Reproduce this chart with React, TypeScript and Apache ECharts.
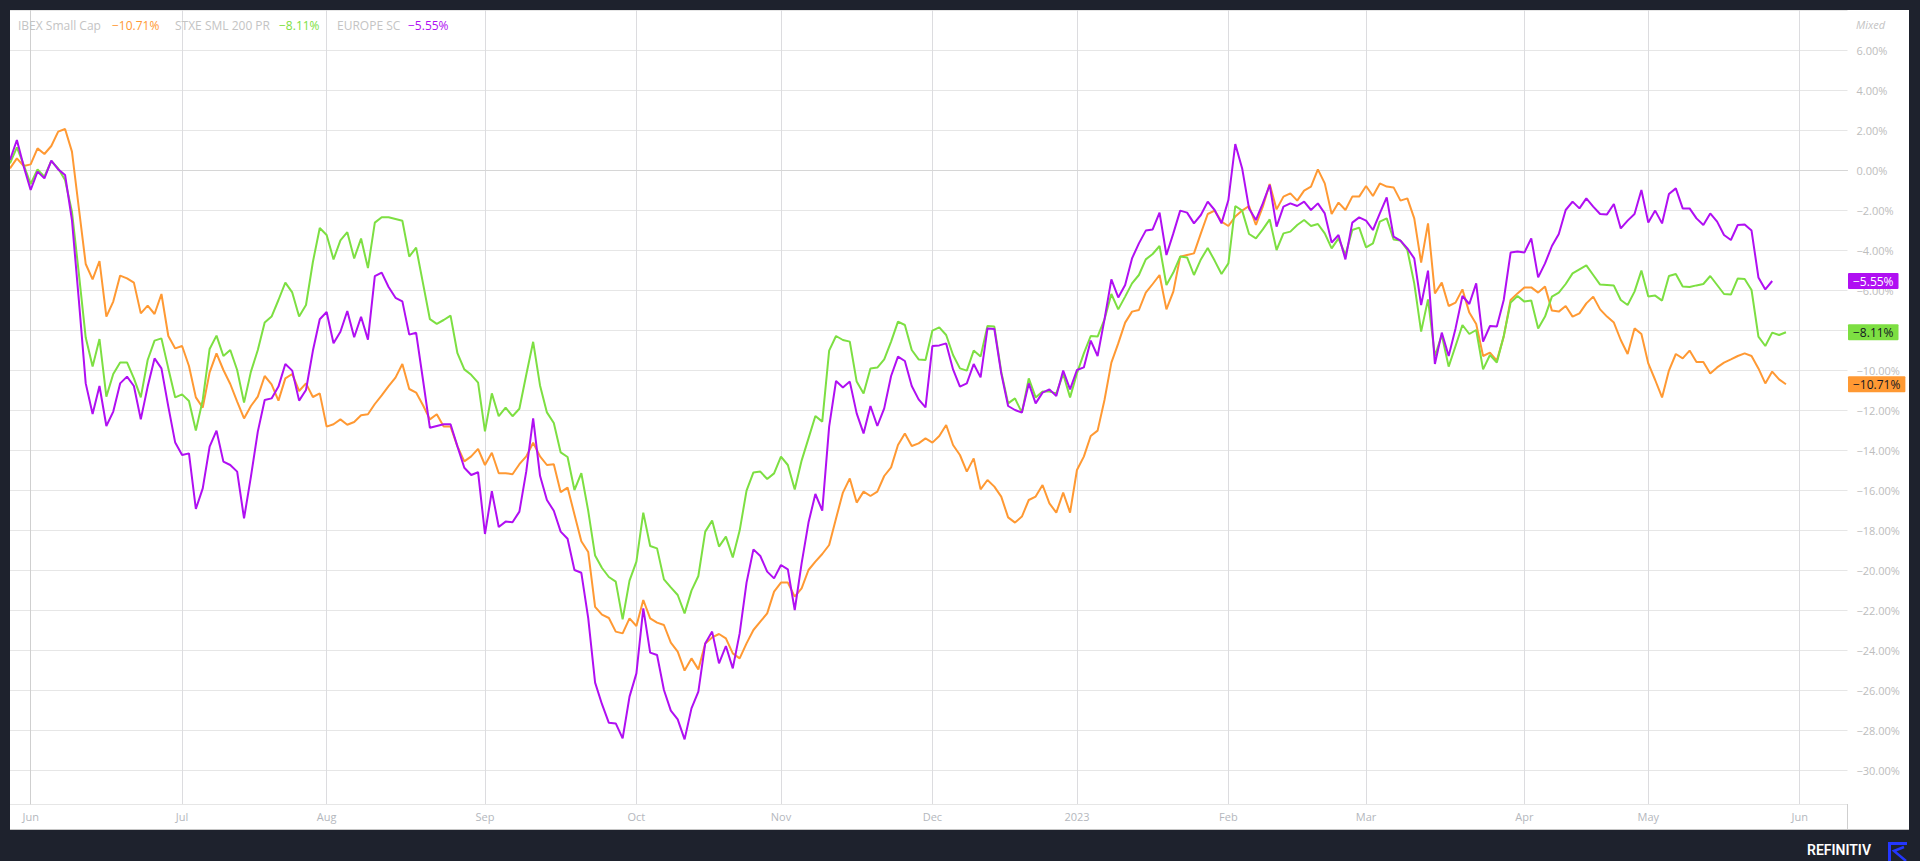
import React, { useEffect, useRef } from 'react';
import * as echarts from 'echarts';

// Trading-day index of the first point (Jun 1 2022 = 0)
const START_DAY = -3;

// X-axis month ticks (trading-day index) and their labels
const monthTickDays = [0, 22, 43, 66, 88, 109, 131, 152, 174, 194, 217, 235, 257];
const monthTickLabels = ['Jun', 'Jul', 'Aug', 'Sep', 'Oct', 'Nov', 'Dec', '2023', 'Feb', 'Mar', 'Apr', 'May', 'Jun'];

const seriesNames = ['IBEX Small Cap', 'STXE SML 200 PR', 'EUROPE SC'];
const seriesColors = ['#ff9933', '#7ddf42', '#b00ff2'];
const tagTextColors = ['#131722', '#131722', '#ffffff'];

// % change, one value per trading day
const ibexSmallCap = [
  0.08, 0.58, 0.2, 0.28, 1.08, 0.8, 1.2, 1.92, 2.05, 0.92,
  -1.9, -4.7, -5.47, -4.55, -7.33, -6.58, -5.28, -5.42, -5.63, -7.17,
  -6.78, -7.2, -6.2, -8.3, -8.92, -8.8, -9.8, -11.37, -11.88, -10.12,
  -9.17, -10, -10.7, -11.58, -12.42, -11.8, -11.33, -10.3, -10.72, -11.53,
  -10.42, -10.2, -11.05, -10.67,
  -11.35, -11.17, -12.83, -12.71, -12.47, -12.74, -12.6, -12.26, -12.21, -11.7,
  -11.27, -10.81, -10.38, -9.7, -10.95, -11.13, -11.76, -12.47, -12.21, -12.83,
  -12.83, -13.82, -14.57, -14.32, -13.94, -14.75, -14.14, -15.16, -15.16, -15.21,
  -14.71, -14.32, -13.64, -14.32, -14.75, -14.71, -16.11, -15.88, -17.22, -18.56,
  -19.1, -21.84, -22.23, -22.4,
  -23.08, -23.17, -22.42, -22.8, -21.5, -22.42, -22.63, -22.75, -23.63, -24.08,
  -25.03, -24.42, -24.97, -23.67, -23.37, -23.2, -23.42, -24.17, -24.42, -23.67,
  -23, -22.58, -22.17, -21.08, -20.63, -20.63, -21.33, -20.92, -20, -19.58,
  -19.2, -18.75, -17.42, -16.13, -15.42, -16.63, -16.08, -16.3, -16.08, -15.3,
  -14.87, -13.75, -13.17,
  -13.8, -13.67, -13.42, -13.63, -13.3, -12.75, -13.75, -14.25, -15.08, -14.42,
  -15.97, -15.5, -15.83, -16.33, -17.37, -17.63, -17.33, -16.5, -16.33, -15.75,
  -16.67, -17.13, -16.13, -17.13, -15, -14.33, -13.3, -13.03, -11.5, -9.63,
  -8.67, -7.63, -7.08, -7, -6.13, -5.7, -5.25, -6.97, -6.08, -4.33,
  -4.25, -4.17, -3.17, -2.2,
  -2.03, -2.58, -2.8, -2.33, -2.03, -1.8, -2.75, -1.83, -0.7, -1.97,
  -1.33, -1.17, -1.53, -1.03, -0.83, 0.03, -0.67, -2.2, -1.63, -2,
  -1.33, -1.33, -0.8, -1.3, -0.67, -0.83, -0.87, -1.53, -1.42, -2.42,
  -4.63, -2.67, -6.17, -5.63, -6.8, -6.63, -5.97, -7.13, -7.7, -9.3,
  -9.13, -9.53, -8.33,
  -6.5, -6.17, -5.87, -5.87, -6.13, -5.83, -7.03, -7.08, -6.8, -7.33,
  -7.17, -6.67, -6.33, -6.97, -7.33, -7.63, -8.5, -9.2, -7.92, -8.2,
  -9.67, -10.5, -11.37, -10.03, -9.2, -9.42, -9.03, -9.6, -9.6, -10.17,
  -9.87, -9.63, -9.47, -9.3, -9.17, -9.3, -9.92, -10.67, -10.08, -10.47,
  -10.71,
];

const stxeSml200 = [
  0.33, 1.13, 0.25, -0.7, 0.03, -0.33, 0.45, 0.08, -0.5, -2.08,
  -5.17, -8.38, -9.83, -8.45, -11.33, -10.2, -9.62, -9.62, -10.42, -11.37,
  -9.5, -8.53, -8.42, -9.92, -11.37, -11.22, -11.55, -13.03, -11.5, -8.95,
  -8.28, -9.3, -9, -10, -11.63, -10.08, -9, -7.63, -7.33, -6.5,
  -5.63, -6.12, -7.33, -6.75,
  -4.6, -2.9, -3.25, -4.47, -3.52, -3.11, -4.42, -3.43, -4.9, -2.63,
  -2.36, -2.36, -2.45, -2.54, -4.33, -3.88, -5.67, -7.46, -7.69, -7.5,
  -7.28, -9.16, -9.97, -10.24, -10.63, -13.07, -11.17, -12.31, -11.88, -12.31,
  -11.94, -10.24, -8.59, -10.77, -12.12, -12.65, -14.12, -14.35, -16, -15.16,
  -17.04, -19.28, -19.9, -20.35,
  -20.58, -22.47, -20.53, -19.58, -17.13, -18.8, -18.92, -20.47, -20.87, -21.25,
  -22.17, -21.03, -20.3, -18.08, -17.53, -18.83, -18.33, -19.37, -18.03, -16.03,
  -15.12, -15.08, -15.45, -15.17, -14.33, -14.75, -15.97, -14.53, -13.42, -12.3,
  -12.58, -9.03, -8.3, -8.5, -8.58, -10.58, -11.17, -9.92, -9.88, -9.47,
  -8.58, -7.58, -7.75,
  -9, -9.47, -9.5, -8.03, -7.87, -8.25, -9.25, -9.92, -10.03, -9.03,
  -9.33, -7.8, -7.83, -10.08, -11.67, -11.42, -12.13, -10.42, -11.37, -11.08,
  -11.08, -11.17, -10.2, -11.37, -10.17, -9.17, -8.3, -8.33, -7.47, -6.2,
  -6.97, -6.33, -5.67, -5.25, -4.47, -4.2, -3.8, -5.75, -5.13, -4.33,
  -4.37, -5.25, -4.47, -3.9,
  -4.53, -5.2, -4.67, -1.8, -2.03, -3.2, -3.42, -2.97, -2.47, -4,
  -3.17, -3.08, -2.75, -2.5, -2.8, -2.7, -3.17, -3.92, -3.42, -4.25,
  -3, -2.88, -3.87, -3.67, -2.58, -2.42, -3.47, -3.53, -4, -5.67,
  -8.08, -6.47, -9.3, -8.25, -9.83, -8.8, -7.75, -8.2, -8, -9.97,
  -9.25, -9.63, -8.3,
  -6.63, -6.3, -6.58, -6.53, -7.92, -7.33, -6.33, -6.13, -5.7, -5.17,
  -4.97, -4.77, -5.25, -5.73, -5.75, -5.78, -6.5, -6.75, -6.08, -5.03,
  -6.33, -6.28, -6.53, -5.3, -5.2, -5.83, -5.85, -5.77, -5.7, -5.3,
  -5.75, -6.2, -6.23, -5.42, -5.45, -6, -8.33, -8.8, -8.13, -8.25,
  -8.11,
];

const europeSc = [
  0.5, 1.5, 0.17, -1, -0.08, -0.42, 0.47, 0.03, -0.25, -2.5,
  -6.5, -10.67, -12.2, -10.8, -12.8, -12.08, -10.67, -10.33, -10.8, -12.47,
  -10.83, -9.42, -9.92, -11.83, -13.63, -14.25, -14.17, -16.95, -15.92, -13.83,
  -13.03, -14.58, -14.75, -15.08, -17.42, -15.33, -13.08, -11.5, -11.42, -10.83,
  -9.7, -10.03, -11.53, -11,
  -9.04, -7.46, -7.1, -8.66, -8.09, -7.05, -8.36, -7.34, -8.48, -5.31,
  -5.13, -5.85, -6.39, -6.57, -8.23, -8.14, -10.5, -12.89, -12.8, -12.71,
  -12.71, -13.82, -14.89, -15.25, -15.11, -18.2, -16.06, -17.85, -17.58, -17.61,
  -17.08, -15.07, -12.42, -15.29, -16.5, -17.04, -18.08, -18.44, -20, -20.14,
  -22.41, -25.63, -26.71, -27.64,
  -27.67, -28.42, -26.33, -25.17, -21.92, -24.13, -24.25, -26, -27.03, -27.47,
  -28.47, -26.92, -26.08, -23.67, -23.08, -24.67, -23.8, -24.92, -23.17, -20.63,
  -18.97, -19.3, -20.08, -20.42, -19.75, -19.97, -22, -19.67, -17.63, -16.2,
  -17.03, -12.83, -10.55, -10.87, -10.58, -12.17, -13.17, -11.8, -12.8, -11.92,
  -10.3, -9.33, -9.55,
  -10.8, -11.47, -11.87, -8.8, -8.77, -8.67, -9.97, -10.83, -10.67, -9.7,
  -10.37, -7.92, -7.95, -10.17, -11.8, -12, -12.13, -10.67, -11.67, -11.13,
  -10.97, -11.3, -10.03, -10.97, -10, -9.87, -8.53, -9.3, -7.47, -5.47,
  -6.37, -5.75, -4.42, -3.67, -3.03, -2.97, -2.13, -4.25, -3.17, -2.03,
  -2.13, -2.67, -2.25, -1.58,
  -2, -2.67, -1.5, 1.3, 0.08, -1.92, -2.5, -1.67, -0.75, -2.83,
  -1.83, -1.67, -1.8, -1.58, -2, -1.67, -2.17, -3.63, -3.25, -4.47,
  -2.63, -2.37, -2.53, -3, -2.17, -1.37, -3.33, -3.53, -3.92, -4.42,
  -6.75, -5.03, -9.7, -8.13, -9.3, -7.92, -6.3, -6.7, -5.67, -8.58,
  -7.8, -7.83, -6.5,
  -4.13, -4.08, -4.13, -3.42, -5.37, -4.67, -3.8, -3.2, -2, -1.58,
  -1.92, -1.42, -1.83, -2.2, -2.22, -1.7, -2.92, -2.53, -2.2, -1,
  -2.63, -2.03, -2.67, -1.2, -0.92, -1.92, -1.92, -2.42, -2.75, -2.17,
  -2.58, -3.25, -3.5, -2.75, -2.72, -3.03, -5.37, -5.97, -5.55,
];

const allSeries = [ibexSmallCap, stxeSml200, europeSc];

const FONT = '"Open Sans", "Noto Sans", sans-serif';
const fmtPct = (v: number) => (v < 0 ? '\u2212' : '') + Math.abs(v).toFixed(2) + '%';

export default function App() {
  const ref = useRef<HTMLDivElement>(null);

  useEffect(() => {
    if (!ref.current) return;
    const chart = echarts.init(ref.current, undefined, { renderer: 'svg' });

    const option: any = {
      animation: false,
      backgroundColor: '#ffffff',
      grid: { left: 10, right: 72.5, top: 10, bottom: 57, containLabel: false },
      xAxis: {
        type: 'value',
        min: START_DAY,
        max: 263.94,
        axisLine: { show: true, lineStyle: { color: '#d6d6d6', width: 1 } },
        axisTick: { show: false, customValues: monthTickDays },
        axisLabel: {
          customValues: monthTickDays,
          formatter: (v: number) => {
            const i = monthTickDays.indexOf(Math.round(v));
            return i >= 0 ? monthTickLabels[i] : '';
          },
          color: '#b4b7bd',
          fontSize: 11,
          fontFamily: FONT,
          margin: 7,
        },
        splitLine: { show: true, lineStyle: { color: '#dcdcdf', width: 1 } },
      },
      yAxis: {
        type: 'value',
        position: 'right',
        min: -31.7,
        max: 8,
        splitNumber: 20,
        minInterval: 2,
        maxInterval: 2,
        axisLine: { show: true, lineStyle: { color: '#cfcfcf', width: 1 } },
        axisTick: { show: false },
        axisLabel: {
          color: '#bdbdbd',
          fontSize: 11,
          fontFamily: FONT,
          margin: 9,
          align: 'left',
          formatter: (v: number) => (Math.abs(v % 2) < 1e-6 && v < 7.9 ? fmtPct(v) : ''),
        },
        splitLine: { show: true, lineStyle: { color: '#e6e6e6', width: 1 } },
      },
      series: allSeries.map((arr, k) => ({
        name: seriesNames[k],
        type: 'line',
        symbol: 'none',
        showSymbol: false,
        silent: true,
        z: 2 + k,
        lineStyle: { color: seriesColors[k], width: 2 },
        itemStyle: { color: seriesColors[k] },
        data: arr.map((v, i) => [START_DAY + i, v]),
      })),
    };
    chart.setOption(option);

    // Price tags at the right axis, positioned through the y scale
    const tags = allSeries.map((arr, k) => {
      const last = arr[arr.length - 1];
      const y = chart.convertToPixel({ yAxisIndex: 0 }, last) as number;
      return {
        type: 'text',
        id: 'tag' + k,
        z: 60,
        x: 1848,
        y,
        style: {
          text: fmtPct(last),
          fill: tagTextColors[k],
          backgroundColor: seriesColors[k],
          padding: [2, 5, 2, 5],
          borderRadius: 1,
          font: '12px ' + FONT,
          verticalAlign: 'middle',
          align: 'left',
        },
      };
    });

    // Legend texts
    const legendNameX = [18, 175, 337];
    const legendValX = [112, 279, 408];
    const legend: any[] = [];
    allSeries.forEach((arr, k) => {
      legend.push({
        type: 'text', id: 'ln' + k, z: 60, x: legendNameX[k], y: 25,
        style: { text: seriesNames[k], fill: '#c4c4c4', font: '12px ' + FONT, verticalAlign: 'middle' },
      });
      legend.push({
        type: 'text', id: 'lv' + k, z: 60, x: legendValX[k], y: 25,
        style: { text: fmtPct(arr[arr.length - 1]), fill: seriesColors[k], font: '12px ' + FONT, verticalAlign: 'middle' },
      });
    });

    const dark = '#1e222d';
    const frame: any[] = [
      { type: 'rect', id: 'fT', z: 100, shape: { x: 0, y: 0, width: 1920, height: 10 }, style: { fill: dark } },
      { type: 'rect', id: 'fL', z: 100, shape: { x: 0, y: 0, width: 10, height: 861 }, style: { fill: dark } },
      { type: 'rect', id: 'fR', z: 100, shape: { x: 1909, y: 0, width: 11, height: 861 }, style: { fill: dark } },
      { type: 'rect', id: 'fB', z: 100, shape: { x: 0, y: 830, width: 1920, height: 31 }, style: { fill: dark } },
      { type: 'line', id: 'sepExt', z: 50, shape: { x1: 1847.5, y1: 804, x2: 1847.5, y2: 830 }, style: { stroke: '#cfcfcf', lineWidth: 1 } },
      { type: 'line', id: 'botEdge', z: 50, shape: { x1: 10, y1: 829.5, x2: 1909, y2: 829.5 }, style: { stroke: '#c4c4c4', lineWidth: 1 } },
      {
        type: 'text', id: 'mixed', z: 60, x: 1856, y: 24,
        style: { text: 'Mixed', fill: '#c4c4c4', font: 'italic 11px ' + FONT, verticalAlign: 'middle' },
      },
      {
        type: 'text', id: 'brand', z: 110, x: 1807, y: 850,
        style: { text: 'REFINITIV', fill: '#ffffff', font: '600 14px Roboto, sans-serif', verticalAlign: 'middle' },
      },
      {
        type: 'polyline', id: 'logo1', z: 110,
        shape: { points: [[1907, 843.5], [1889.5, 843.5], [1889.5, 861]] },
        style: { stroke: '#2437ff', lineWidth: 3, fill: 'none' },
      },
      {
        type: 'polyline', id: 'logo2', z: 110,
        shape: { points: [[1904, 847], [1894, 851], [1906, 861]] },
        style: { stroke: '#2437ff', lineWidth: 2.5, fill: 'none' },
      },
    ];

    chart.setOption({ graphic: [...frame, ...legend, ...tags] });

    return () => chart.dispose();
  }, []);

  return <div ref={ref} style={{ position: 'fixed', left: 0, top: 0, width: 1920, height: 861 }} />;
}
